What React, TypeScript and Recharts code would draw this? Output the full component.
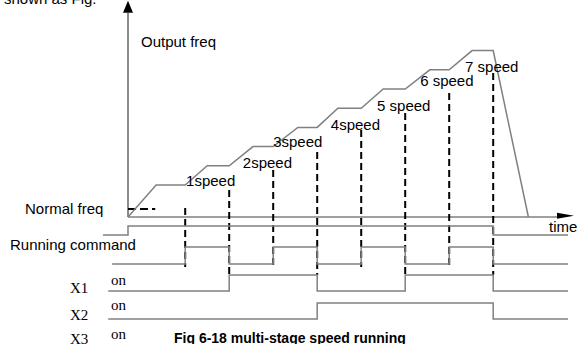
import React from "react";
import { ComposedChart, Line, XAxis, YAxis, Scatter, ReferenceLine } from "recharts";

const W = 578;
const H = 344;

// time: 1 unit = 4.4px, the frequency axis stands at t = 30
// frequency: 1 Hz = 3.2px above the time axis
const T0 = 30;
const T_DOMAIN = [T0 - 128 / 4.4, T0 + 450 / 4.4];
const F_DOMAIN = [-127 / 3.2, 217 / 3.2];

// output frequency profile
const outTimes = [30, 36.4, 43, 48, 53, 58.4, 63, 68.6, 73, 77.7, 83, 88, 93, 98.6, 103, 108.2, 113, 121];
const outFreq = [0, 10, 10, 16, 16, 22, 22, 28, 28, 34, 34, 40, 40, 46, 46, 52, 52, 0];

// instants where the multi-speed terminals switch
const switchTimes = [43, 53, 63, 73, 83, 93, 103, 113];
const speedNames = ["1speed", "2speed", "3speed", "4speed", "5 speed", "6 speed", "7 speed"];

// terminal states (0 = off, 1 = on)
const runTimes = [24.3, 30, 113, 130];
const runStates = [0, 1, 0, 0];
const pulseTimes = [26.4, 43, 53, 63, 73, 83, 93, 103, 113, 130];
const pulseStates = [0, 1, 0, 1, 0, 1, 0, 1, 0, 0];
const x1Times = [25.5, 53, 73, 93, 113, 130];
const x1States = [0, 1, 0, 1, 0, 0];
const x2Times = [25.5, 73, 113, 130];
const x2States = [0, 1, 0, 0];

// layout (in axis units)
const dashTop = [2.8, 8.4, 14.7, 20.3, 27.2, 32.5, 38.75, 45];
const dashBottom = [-15.6, -18.1, -15.6, -18.1, -15.6, -18.1, -15.6, -18.1];
const speedLabelT = [43.2, 56.1, 63, 76.1, 86.6, 96.4, 106.6];
const speedLabelF = [9.7, 15.3, 21.9, 27.2, 33.1, 40.9, 45.3];
const rowBase = [-5.6, -14.69, -23.13, -31.9];
const rowAmp = [2.8, 5.3, 5.0, 5.0];

const GREY = "#808080";
const SANS = "'Liberation Sans', Arial, sans-serif";
const SERIF = "'Liberation Serif', 'Times New Roman', serif";

const outData = outTimes.map((t, i) => ({ t, f: outFreq[i] }));

// square-wave corners for each terminal row
const rows = [
  [runTimes, runStates],
  [pulseTimes, pulseStates],
  [x1Times, x1States],
  [x2Times, x2States],
].map(([times, states], r) => {
  const pts: { t: number; f: number }[] = [];
  times.forEach((t, i) => {
    if (i > 0) pts.push({ t, f: rowBase[r] + states[i - 1] * rowAmp[r] });
    pts.push({ t, f: rowBase[r] + states[i] * rowAmp[r] });
  });
  return pts;
});

const dashData = switchTimes.map((t, i) => [
  { t, f: dashTop[i] },
  { t, f: dashBottom[i] },
]);

const labelData = speedNames.map((name, i) => ({
  t: speedLabelT[i],
  f: speedLabelF[i],
  name,
}));

const TextShape = (p: any) => (
  <text x={p.cx} y={p.cy} fontSize={15} fontFamily={SANS} fill="#000">
    {p.payload.name}
  </text>
);

const UpArrow = (p: any) => (
  <polygon
    points={`${p.cx - 5},${p.cy} ${p.cx + 5},${p.cy} ${p.cx},${p.cy - 12}`}
    fill="#000"
  />
);

const RightArrow = (p: any) => (
  <polygon
    points={`${p.cx},${p.cy - 3} ${p.cx},${p.cy + 3} ${p.cx + 17},${p.cy}`}
    fill="#000"
  />
);

export default function App() {
  return (
    <div style={{ position: "absolute", left: 0, top: 0, width: W, height: H, background: "#fff" }}>
      <svg
        width={W}
        height={H}
        style={{ position: "absolute", left: 0, top: 0, pointerEvents: "none" }}
      >
        <g fontFamily={SANS} fontSize={15} fill="#000">
          <text x={4} y={4}>shown as Fig.</text>
          <text x={141} y={47}>Output freq</text>
          <text x={25} y={214}>Normal freq</text>
          <text x={10} y={250}>Running command</text>
          <text x={549} y={232}>time</text>
        </g>
        <g fontFamily={SERIF} fontSize={15} fill="#000">
          <text x={70} y={293}>X1</text>
          <text x={111} y={285}>on</text>
          <text x={70} y={320}>X2</text>
          <text x={111} y={310}>on</text>
          <text x={70} y={344}>X3</text>
          <text x={111} y={339}>on</text>
        </g>
        <text x={174} y={343} fontFamily={SANS} fontSize={14} fontWeight="bold" fill="#000">
          Fig 6-18 multi-stage speed running
        </text>
      </svg>

      <div style={{ position: "absolute", left: 0, top: 0 }}>
        <ComposedChart width={W} height={H} margin={{ top: 0, right: 0, bottom: 0, left: 0 }}>
          <XAxis type="number" dataKey="t" domain={T_DOMAIN} hide />
          <YAxis type="number" dataKey="f" domain={F_DOMAIN} hide />

          <ReferenceLine segment={[{ x: T0, y: 0 }, { x: 127.5, y: 0 }]} stroke={GREY} strokeWidth={1.5} />
          <ReferenceLine segment={[{ x: T0, y: 0 }, { x: T0, y: 63.8 }]} stroke="#666" strokeWidth={1.5} />
          <Scatter data={[{ t: T0, f: 63.8 }]} shape={UpArrow} isAnimationActive={false} />
          <Scatter data={[{ t: 127.5, f: 0.4 }]} shape={RightArrow} isAnimationActive={false} />

          <Line
            data={[{ t: T0, f: 2.5 }, { t: T0 + 6.2, f: 2.5 }]}
            dataKey="f"
            stroke="#000"
            strokeWidth={2}
            strokeDasharray="8 4"
            dot={false}
            activeDot={false}
            isAnimationActive={false}
          />

          {dashData.map((d, i) => (
            <Line
              key={"d" + i}
              data={d}
              dataKey="f"
              stroke="#000"
              strokeWidth={2}
              strokeDasharray="7 4"
              dot={false}
              activeDot={false}
              isAnimationActive={false}
            />
          ))}

          <Line
            data={outData}
            dataKey="f"
            type="linear"
            stroke={GREY}
            strokeWidth={1.5}
            dot={false}
            activeDot={false}
            isAnimationActive={false}
          />

          {rows.map((d, i) => (
            <Line
              key={"r" + i}
              data={d}
              dataKey="f"
              type="linear"
              stroke={GREY}
              strokeWidth={1.5}
              dot={false}
              activeDot={false}
              isAnimationActive={false}
            />
          ))}

          <Scatter data={labelData} shape={TextShape} isAnimationActive={false} />
        </ComposedChart>
      </div>
    </div>
  );
}
